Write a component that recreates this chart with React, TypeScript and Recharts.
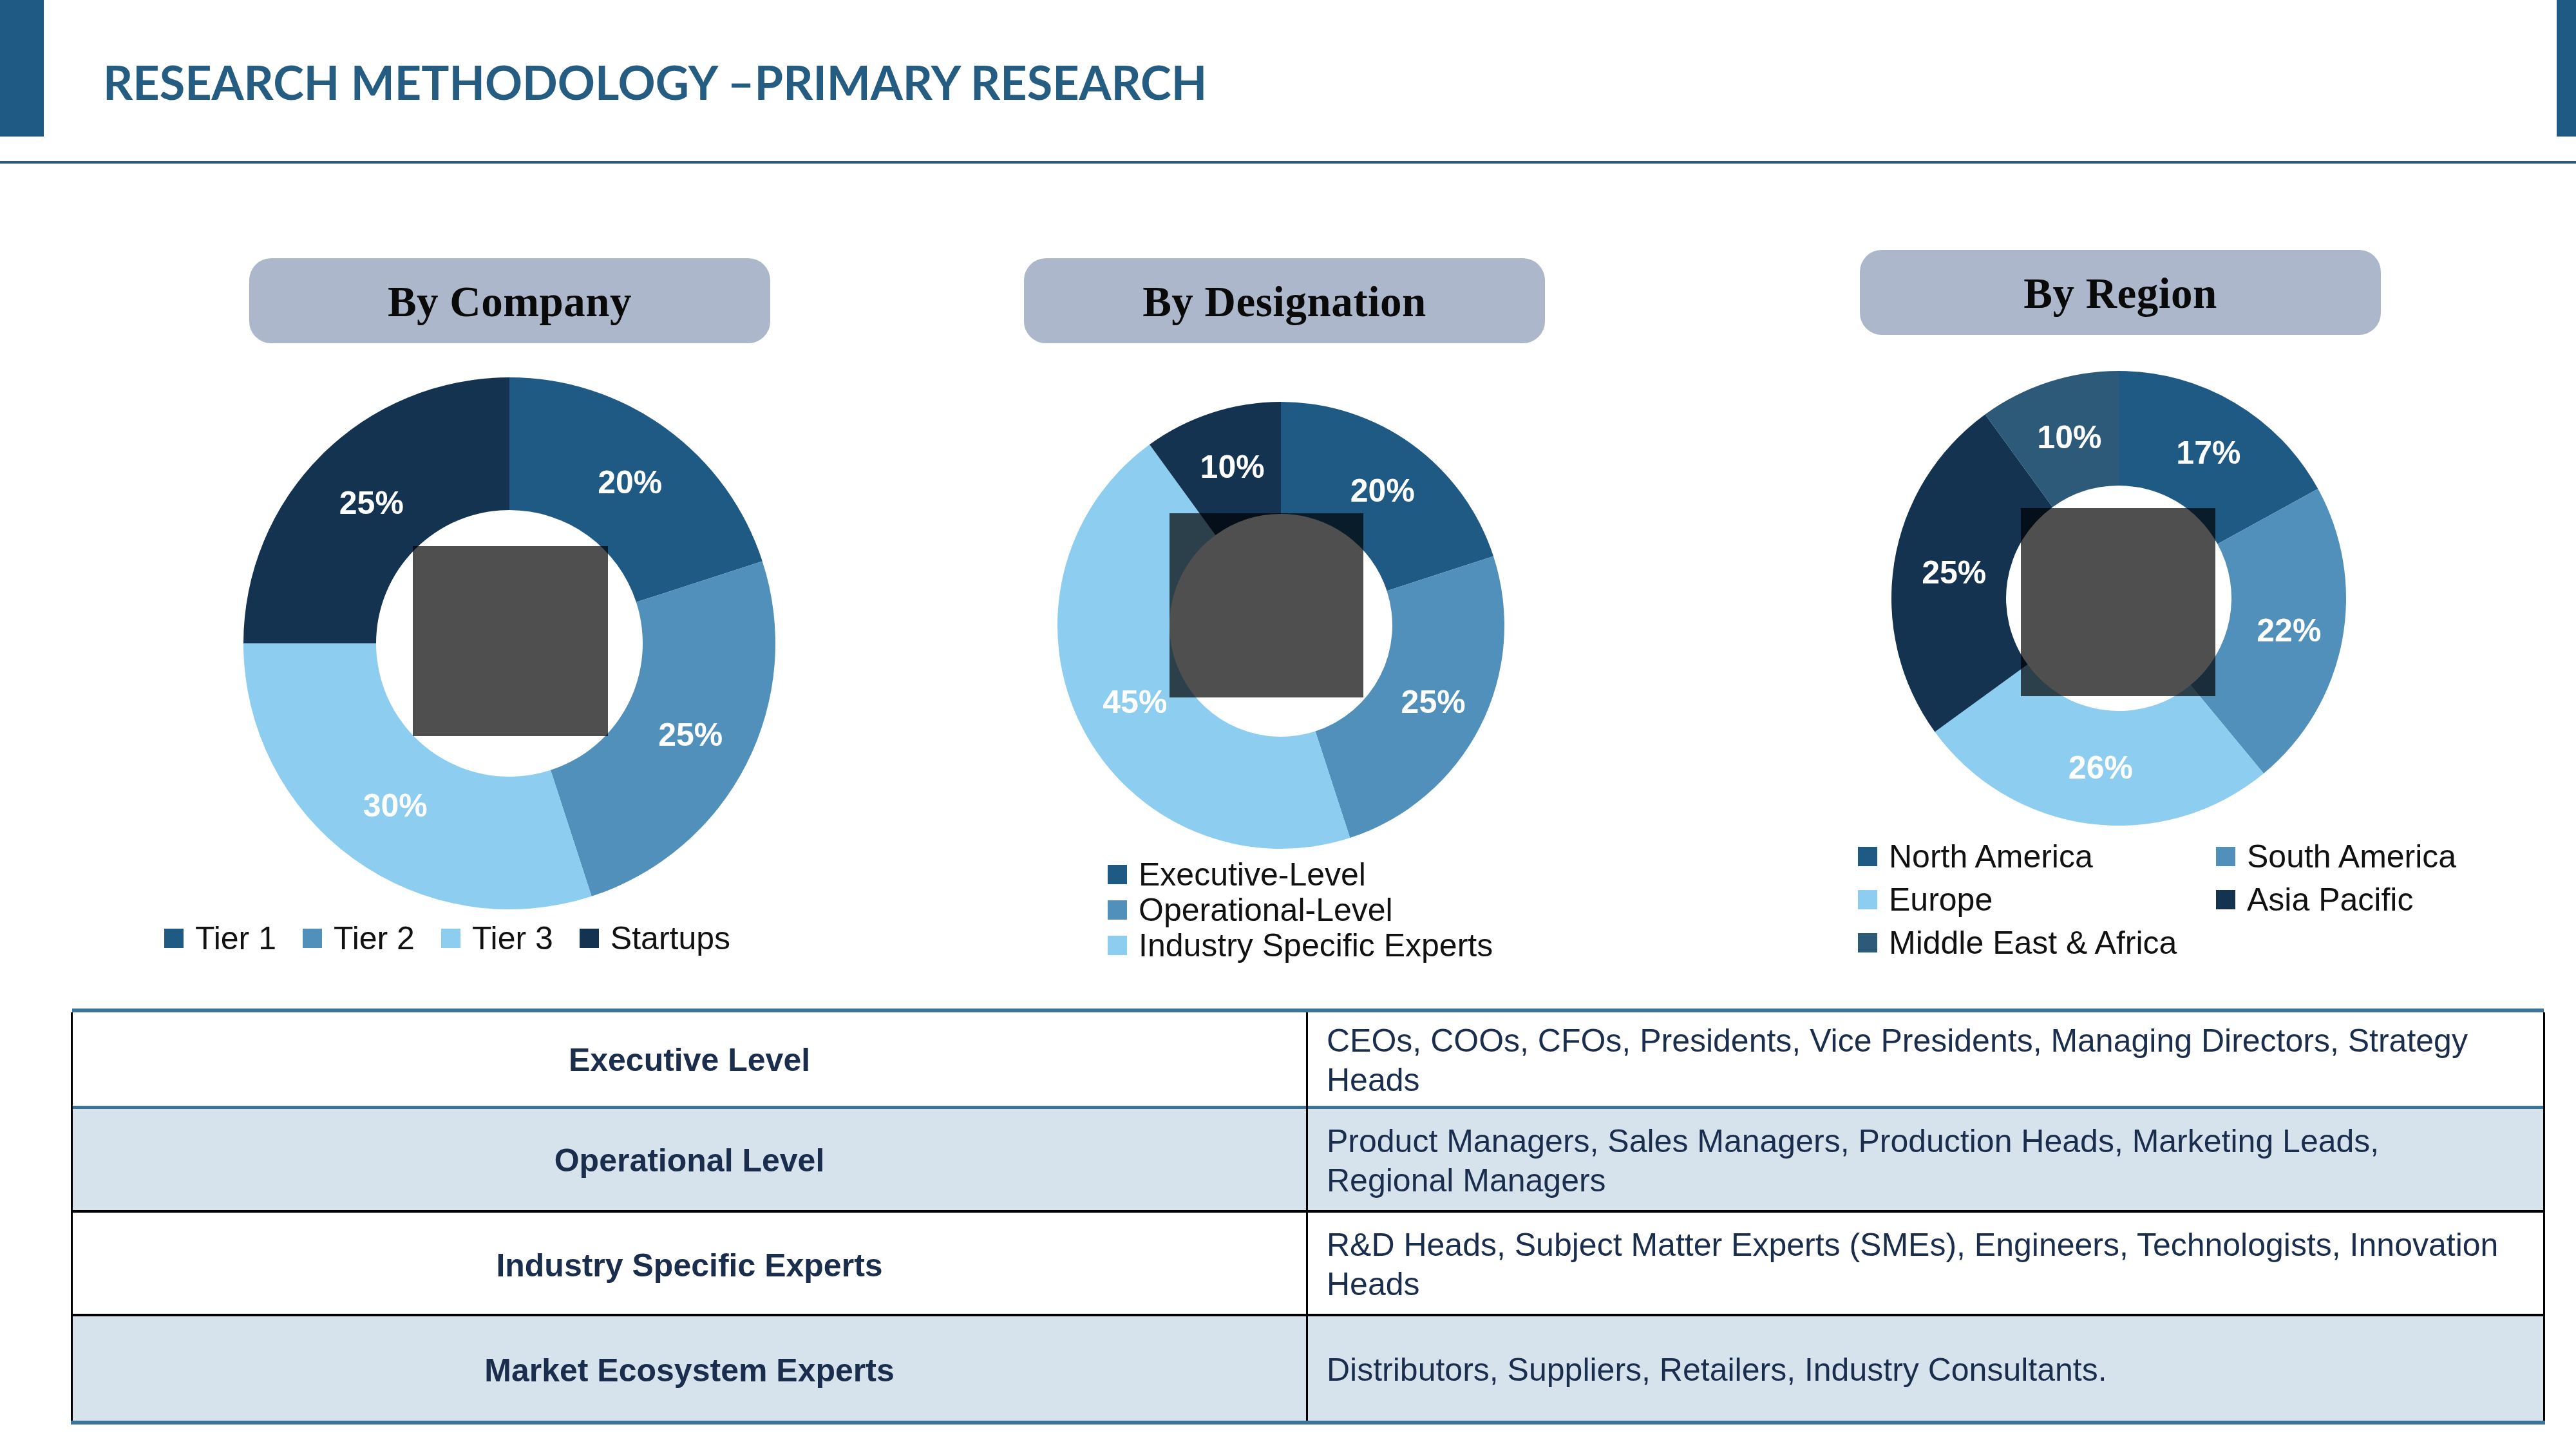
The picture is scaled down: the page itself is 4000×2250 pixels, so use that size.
import { PieChart, Pie, Legend } from "recharts";

const companyNames = ["Tier 1", "Tier 2", "Tier 3", "Startups"];
const companyValues = [20, 25, 30, 25];
const companyColors = ["#1f5a85", "#5090bb", "#8ccdf0", "#133350"];

const designationNames = ["Executive-Level", "Operational-Level", "Industry Specific Experts", "Market Ecosystem Experts"];
const designationValues = [20, 25, 45, 10];
const designationColors = ["#1f5a85", "#5090bb", "#8ccdf0", "#133350"];
const designationLegend = ["Executive-Level", "Operational-Level", "Industry Specific Experts"];

const regionNames = ["North America", "South America", "Europe", "Asia Pacific", "Middle East & Africa"];
const regionValues = [17, 22, 26, 25, 10];
const regionColors = ["#1f5a85", "#5090bb", "#8ccdf0", "#133350", "#2d5a78"];

const tableHeads = ["Executive Level", "Operational Level", "Industry Specific Experts", "Market Ecosystem Experts"];
const tableLines = [
  ["CEOs, COOs, CFOs, Presidents, Vice Presidents, Managing Directors, Strategy", "Heads"],
  ["Product Managers, Sales Managers, Production Heads, Marketing Leads,", "Regional Managers"],
  ["R&D Heads, Subject Matter Experts (SMEs), Engineers, Technologists, Innovation", "Heads"],
  ["Distributors, Suppliers, Retailers, Industry Consultants."],
];

const SANS = '"Liberation Sans", Arial, sans-serif';
const RAD = Math.PI / 180;

function renderSliceLabel(props: any) {
  const { cx, cy, midAngle, innerRadius, outerRadius, value } = props;
  const r = (innerRadius + outerRadius) / 2;
  return (
    <text
      x={cx + r * Math.cos(-midAngle * RAD) + 5}
      y={cy + r * Math.sin(-midAngle * RAD) + 1}
      fill="#ffffff"
      fontFamily={SANS}
      fontWeight={700}
      fontSize={50}
      textAnchor="middle"
      dominantBaseline="central"
    >
      {value}%
    </text>
  );
}

function LegendBlock({ payload, only, columns, rowHeight, gap }: any) {
  const items = (payload || []).filter((p: any) => !only || only.includes(p.value));
  return (
    <div
      style={{
        display: "grid",
        gridTemplateColumns: columns,
        gridAutoRows: rowHeight,
        columnGap: gap,
        fontFamily: SANS,
        fontSize: 50,
        color: "#111111",
      }}
    >
      {items.map((item: any) => (
        <div key={item.value} style={{ display: "flex", alignItems: "center", whiteSpace: "nowrap" }}>
          <span style={{ width: 30, height: 30, background: item.color, marginRight: 18, flex: "none" }} />
          {item.value}
        </div>
      ))}
    </div>
  );
}

function Donut({ names, values, colors, cx, cy, outer, inner, legendAt, legend, box }: any) {
  const data = names.map((name: string, i: number) => ({ name, value: values[i], fill: colors[i] }));
  return (
    <div style={{ position: "absolute", left: 0, top: 0 }}>
      <PieChart width={4000} height={1560} margin={{ top: 0, right: 0, bottom: 0, left: 0 }}>
        <Pie
          data={data}
          dataKey="value"
          nameKey="name"
          cx={cx}
          cy={cy}
          outerRadius={outer}
          innerRadius={inner}
          startAngle={90}
          endAngle={-270}
          stroke="none"
          label={renderSliceLabel}
          labelLine={false}
          isAnimationActive={false}
        />
        <Legend
          itemSorter={null}
          wrapperStyle={{ position: "absolute", left: legendAt[0], top: legendAt[1], width: "auto", bottom: "auto" }}
          content={(p: any) => <LegendBlock payload={p.payload} {...legend} />}
        />
      </PieChart>
      {/* masked logo sitting on top of the hole */}
      <div
        style={{
          position: "absolute",
          left: box[0],
          top: box[1],
          width: box[2],
          height: box[3],
          background: "rgba(0,0,0,0.69)",
        }}
      />
    </div>
  );
}

function Pill({ left, top, text }: { left: number; top: number; text: string }) {
  return (
    <div
      style={{
        position: "absolute",
        left,
        top,
        width: 809,
        height: 132,
        borderRadius: 34,
        background: "#adb7cb",
        display: "flex",
        alignItems: "center",
        justifyContent: "center",
        fontFamily: '"Liberation Serif", serif',
        fontWeight: 700,
        fontSize: 67,
        letterSpacing: 0.5,
        paddingTop: 3,
        boxSizing: "border-box",
        color: "#0a0a0a",
      }}
    >
      {text}
    </div>
  );
}

const rowTops = [1572, 1722, 1883, 2044];
const rowBottoms = [1717, 1879, 2040, 2206];
const rowFills = ["#ffffff", "#d6e2ec", "#ffffff", "#d6e2ec"];
const lineAbove = ["#3f7499", "#3f7499", "#000000", "#000000"];
const lineTops = [1566, 1717, 1879, 2040];
const lineHeights = [6, 5, 4, 4];

function ExpertTable() {
  return (
    <>
      {tableHeads.map((head, i) => (
        <div key={head}>
          <div
            style={{
              position: "absolute",
              left: 112,
              top: lineTops[i],
              width: 3838,
              height: lineHeights[i],
              background: lineAbove[i],
            }}
          />
          <div
            style={{
              position: "absolute",
              left: 112,
              top: rowTops[i],
              width: 3838,
              height: rowBottoms[i] - rowTops[i],
              background: rowFills[i],
              fontFamily: SANS,
              color: "#1a2d4d",
              fontSize: 50,
            }}
          >
            <div
              style={{
                position: "absolute",
                left: 0,
                top: i < 2 ? 1 : 3,
                width: 1917,
                height: "100%",
                display: "flex",
                alignItems: "center",
                justifyContent: "center",
                fontWeight: 700,
              }}
            >
              {head}
            </div>
            <div
              style={{
                position: "absolute",
                left: 1948,
                top: 2,
                height: "100%",
                display: "flex",
                flexDirection: "column",
                justifyContent: "center",
                lineHeight: "61px",
                whiteSpace: "nowrap",
              }}
            >
              {tableLines[i].map((line) => (
                <div key={line}>{line}</div>
              ))}
            </div>
          </div>
        </div>
      ))}
      <div style={{ position: "absolute", left: 110, top: 2206, width: 3842, height: 6, background: "#3f7499" }} />
      <div style={{ position: "absolute", left: 110, top: 1572, width: 3, height: 634, background: "#000" }} />
      <div style={{ position: "absolute", left: 2028, top: 1572, width: 3, height: 634, background: "#000" }} />
      <div style={{ position: "absolute", left: 3949, top: 1572, width: 3, height: 634, background: "#000" }} />
    </>
  );
}

export default function App() {
  return (
    <div style={{ position: "absolute", left: 0, top: 0, width: 4000, height: 2250, background: "#fff", overflow: "hidden" }}>
      <div style={{ position: "absolute", left: 0, top: 0, width: 68, height: 212, background: "#1f5a85" }} />
      <div style={{ position: "absolute", left: 3970, top: 0, width: 30, height: 212, background: "#1f5a85" }} />
      <div style={{ position: "absolute", left: 0, top: 250, width: 4000, height: 4, background: "#2c5975" }} />
      <div
        style={{
          position: "absolute",
          left: 160,
          top: 78,
          fontFamily: "Lato, sans-serif",
          fontWeight: 700,
          fontSize: 72,
          lineHeight: "98px",
          color: "#255d82",
          whiteSpace: "nowrap",
        }}
      >
        RESEARCH METHODOLOGY –PRIMARY RESEARCH
      </div>

      <Pill left={387} top={401} text="By Company" />
      <Pill left={1590} top={401} text="By Designation" />
      <Pill left={2888} top={388} text="By Region" />

      <Donut
        names={companyNames}
        values={companyValues}
        colors={companyColors}
        cx={791}
        cy={999}
        outer={413}
        inner={207}
        legendAt={[255, 1425]}
        legend={{ columns: "auto auto auto auto", rowHeight: 64, gap: 41 }}
        box={[641, 848, 303, 295]}
      />
      <Donut
        names={designationNames}
        values={designationValues}
        colors={designationColors}
        cx={1989}
        cy={971}
        outer={347}
        inner={173}
        legendAt={[1720, 1330]}
        legend={{ columns: "auto", rowHeight: 55, gap: 0, only: designationLegend }}
        box={[1816, 797, 301, 286]}
      />
      <Donut
        names={regionNames}
        values={regionValues}
        colors={regionColors}
        cx={3290}
        cy={929}
        outer={353}
        inner={175}
        legendAt={[2885, 1296]}
        legend={{ columns: "556px auto", rowHeight: 67, gap: 0 }}
        box={[3138, 789, 302, 292]}
      />

      <ExpertTable />
    </div>
  );
}
